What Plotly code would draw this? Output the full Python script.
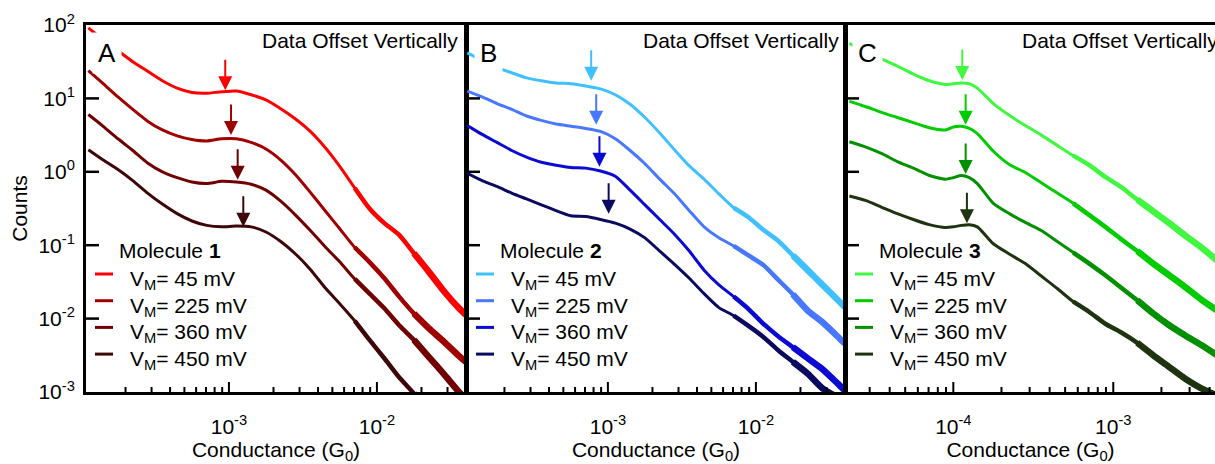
import math
import plotly.graph_objects as go

# conductance grid (log10 G/G0) for panels A and B
logG_AB = [-3.95, -3.85, -3.75, -3.65, -3.55, -3.45, -3.35, -3.25, -3.15, -3.05,
           -2.95, -2.85, -2.75, -2.65, -2.55, -2.45, -2.35, -2.25, -2.15, -2.05,
           -1.95, -1.85, -1.75, -1.65, -1.55, -1.45, -1.40]
# conductance grid (log10 G/G0) for panel C
logG_C = [-4.65, -4.55, -4.45, -4.35, -4.25, -4.15, -4.05, -4.00, -3.95, -3.90,
          -3.85, -3.75, -3.65, -3.55, -3.45, -3.35, -3.25, -3.15, -3.05, -2.95,
          -2.85, -2.75, -2.65, -2.55, -2.45, -2.35]

# log10 counts (offset vertically), molecule 1
A_45 = [1.96, 1.80, 1.65, 1.50, 1.37, 1.24, 1.14, 1.08, 1.07, 1.09, 1.10, 1.05, 0.98, 0.86,
        0.72, 0.55, 0.33, 0.07, -0.22, -0.50, -0.70, -0.86, -1.11, -1.36, -1.62, -1.85, -1.95]
A_225 = [1.38, 1.20, 1.02, 0.85, 0.69, 0.57, 0.49, 0.44, 0.42, 0.45, 0.45, 0.40, 0.31, 0.16,
         -0.04, -0.28, -0.53, -0.78, -1.03, -1.23, -1.45, -1.70, -1.93, -2.13, -2.31, -2.50, -2.59]
A_360 = [0.78, 0.62, 0.45, 0.29, 0.12, 0.00, -0.08, -0.14, -0.16, -0.13, -0.14, -0.17, -0.25, -0.40,
         -0.59, -0.80, -1.02, -1.23, -1.46, -1.66, -1.86, -2.09, -2.29, -2.52, -2.75, -2.99, -3.09]
A_450 = [0.30, 0.16, 0.03, -0.12, -0.29, -0.44, -0.57, -0.67, -0.73, -0.75, -0.74, -0.75, -0.82,
         -0.95, -1.12, -1.33, -1.58, -1.80, -2.03, -2.29, -2.54, -2.80, -3.02, -3.27]

# molecule 2
B_45 = [1.62, 1.52, 1.42, 1.35, 1.28, 1.24, 1.21, 1.20, 1.17, 1.13, 1.05, 0.92, 0.74, 0.53,
        0.30, 0.08, -0.10, -0.30, -0.49, -0.62, -0.79, -0.94, -1.14, -1.34, -1.54, -1.74, -1.84]
B_225 = [1.10, 1.02, 0.93, 0.85, 0.76, 0.70, 0.65, 0.62, 0.59, 0.55, 0.45, 0.29, 0.11, -0.10,
         -0.30, -0.53, -0.75, -0.90, -1.01, -1.14, -1.27, -1.47, -1.67, -1.89, -2.05, -2.24, -2.34]
B_360 = [0.63, 0.51, 0.40, 0.29, 0.20, 0.13, 0.09, 0.06, 0.05, 0.01, -0.06, -0.25, -0.45, -0.65,
         -0.85, -1.08, -1.34, -1.54, -1.70, -1.87, -2.07, -2.24, -2.39, -2.54, -2.69, -2.88, -2.98]
B_450 = [-0.02, -0.12, -0.20, -0.29, -0.37, -0.45, -0.53, -0.60, -0.61, -0.65, -0.70, -0.78, -0.90,
         -1.08, -1.26, -1.45, -1.66, -1.85, -1.96, -2.10, -2.25, -2.43, -2.59, -2.75, -2.95, -3.07]

# molecule 3
C_45 = [1.75, 1.64, 1.54, 1.44, 1.33, 1.24, 1.19, 1.20, 1.21, 1.20, 1.14, 0.93, 0.77, 0.63,
        0.50, 0.36, 0.22, 0.09, -0.07, -0.21, -0.38, -0.54, -0.70, -0.87, -1.03, -1.21]
C_225 = [0.96, 0.89, 0.81, 0.74, 0.67, 0.60, 0.57, 0.61, 0.62, 0.59, 0.52, 0.28, 0.10, -0.01,
         -0.15, -0.29, -0.43, -0.59, -0.75, -0.92, -1.08, -1.25, -1.41, -1.57, -1.74, -1.89]
C_360 = [0.41, 0.34, 0.25, 0.14, 0.05, -0.05, -0.10, -0.08, -0.05, -0.08, -0.16, -0.43, -0.57,
         -0.69, -0.80, -0.95, -1.10, -1.25, -1.41, -1.58, -1.75, -1.93, -2.09, -2.23, -2.36, -2.50]
C_450 = [-0.33, -0.39, -0.48, -0.57, -0.65, -0.72, -0.76, -0.75, -0.73, -0.72, -0.75, -0.98, -1.12,
         -1.25, -1.42, -1.59, -1.77, -1.91, -2.07, -2.19, -2.33, -2.50, -2.66, -2.82, -2.95, -3.05]

# peak positions marked with arrows (log10 G, log10 counts)
peakG_A = [-3.025, -2.986, -2.941, -2.903]
peakN_A = [1.11, 0.50, -0.11, -0.75]
peakG_B = [-3.113, -3.079, -3.057, -2.995]
peakN_B = [1.24, 0.64, 0.07, -0.57]
peakG_C = [-3.944, -3.923, -3.923, -3.915]
peakN_C = [1.25, 0.64, -0.03, -0.70]

bias_labels = ["45 mV", "225 mV", "360 mV", "450 mV"]
colors_A = ["#ff0000", "#a00000", "#700000", "#3e0606"]
colors_B = ["#40c0ff", "#4878ff", "#0a0ad2", "#0a0a60"]
colors_C = ["#40f840", "#00cc00", "#009000", "#1e3410"]

y_exps = [-3, -2, -1, 0, 1, 2]

W, H = 1215, 464
ML, MT, MB = 86, 25, 72
PW, PH = W - ML, H - MT - MB
FONT = "Liberation Sans, Arial, sans-serif"


def px(x):
    return (x - ML) / PW


def py(y):
    return (H - MB - y) / PH


def pow_label(e):
    return "10<sup>" + str(e) + "</sup>"


panels = [
    dict(key="", left=86, right=466, logG=logG_AB, series=[A_45, A_225, A_360, A_450],
         colors=colors_A, pG=peakG_A, pN=peakN_A, letter="A", mol="1",
         xr=[-3.966, -1.398], dec=[-4, -3, -2], tail=-2.15),
    dict(key="2", left=467, right=845, logG=logG_AB, series=[B_45, B_225, B_360, B_450],
         colors=colors_B, pG=peakG_B, pN=peakN_B, letter="B", mol="2",
         xr=[-3.952, -1.398], dec=[-4, -3, -2], tail=-2.15),
    dict(key="3", left=846, right=1215, logG=logG_C, series=[C_45, C_225, C_360, C_450],
         colors=colors_C, pG=peakG_C, pN=peakN_C, letter="C", mol="3",
         xr=[-4.671, -2.364], dec=[-5, -4, -3], tail=-3.25),
]

fig = go.Figure()
annotations = []
shapes = []
tick_line = dict(color="black", width=2)
yr = [y_exps[0], y_exps[-1]]

for i, p in enumerate(panels):
    xa, ya = "x" + p["key"], "y" + p["key"]
    for vals, col, lab in zip(p["series"], p["colors"], bias_labels):
        g = p["logG"][:len(vals)]
        gx = [10 ** v for v in g]
        ny = [10 ** v for v in vals]
        fig.add_trace(go.Scatter(
            x=gx, y=ny, mode="lines",
            line=dict(color=col, width=3, shape="spline", smoothing=0.6),
            name=lab, xaxis=xa, yaxis=ya, showlegend=False,
        ))
        # noisier high-conductance tail drawn as a broader band
        for start, wid in [(p["tail"], 4.5), (p["tail"] + 0.35, 6.5)]:
            idx = [k for k, v in enumerate(g) if v >= start - 1e-9]
            fig.add_trace(go.Scatter(
                x=[gx[k] for k in idx], y=[ny[k] for k in idx], mode="lines",
                line=dict(color=col, width=wid, shape="spline", smoothing=0.6),
                name=lab, xaxis=xa, yaxis=ya, showlegend=False, hoverinfo="skip",
            ))

    # arrows at peak positions
    for gx, ny, col in zip(p["pG"], p["pN"], p["colors"]):
        annotations.append(dict(
            x=gx, y=ny, xref=xa, yref=ya, text="", showarrow=True,
            ax=0, ay=-32, arrowhead=2, arrowsize=1.4, arrowwidth=2, arrowcolor=col,
        ))

    dl = p["left"]
    annotations.append(dict(
        x=px(dl + 21), y=py(53), xref="paper", yref="paper", text=p["letter"],
        showarrow=False, font=dict(size=26, color="black"), bgcolor="white", borderpad=5,
        xanchor="center", yanchor="middle",
    ))
    annotations.append(dict(
        x=px(dl + 374), y=py(40), xref="paper", yref="paper", text="Data Offset Vertically",
        showarrow=False, font=dict(size=21, color="black"), xanchor="right", yanchor="middle",
    ))
    annotations.append(dict(
        x=px(dl + 31), y=py(250), xref="paper", yref="paper",
        text="Molecule <b>" + p["mol"] + "</b>",
        showarrow=False, font=dict(size=21, color="black"), xanchor="left", yanchor="middle",
    ))
    for k, (col, lab) in enumerate(zip(p["colors"], bias_labels)):
        yk = 277 + 26.7 * k
        annotations.append(dict(
            x=px(dl + 42), y=py(yk + 3), xref="paper", yref="paper",
            text="V<sub>M</sub>= " + lab,
            showarrow=False, font=dict(size=21, color="black"), xanchor="left", yanchor="middle",
        ))
        shapes.append(dict(
            type="line", xref="paper", yref="paper",
            x0=px(dl + 9), x1=px(dl + 27), y0=py(yk - 3), y1=py(yk - 3),
            line=dict(color=col, width=3),
        ))

    # inward tick marks (major decades, minor 2..9), placed in axis-domain fractions
    lo, hi = p["xr"]
    for d in p["dec"]:
        for m in range(1, 10):
            lv = d + math.log10(m)
            if lo < lv < hi:
                tl = 10 if m == 1 else 5
                fx = (lv - lo) / (hi - lo)
                shapes.append(dict(type="line", xref=xa + " domain", yref=ya + " domain",
                                   x0=fx, x1=fx, y0=0, y1=tl / PH, line=tick_line))
    # y ticks on the left edge of each panel (y domain spans the whole plot height)
    for e in y_exps[1:-1]:
        fy = (e - yr[0]) / (yr[1] - yr[0])
        shapes.append(dict(type="line", xref="paper", yref="paper", layer="above",
                           x0=px(dl), x1=px(dl + 13), y0=fy, y1=fy,
                           line=dict(color="black", width=2.5)))

    xaxis = dict(
        type="log", range=p["xr"], domain=[px(p["left"]), px(p["right"])], anchor=ya,
        showline=True, linecolor="black", linewidth=3, mirror=True, ticks="",
        tickmode="array", tickvals=[10.0 ** d for d in p["dec"]],
        ticktext=[pow_label(d) for d in p["dec"]],
        showgrid=False, zeroline=False,
        tickfont=dict(size=21, color="black"), ticklabelstandoff=14,
        title=dict(text="Conductance (G<sub>0</sub>)", font=dict(size=21, color="black"), standoff=16),
        automargin=False,
    )
    yaxis = dict(
        type="log", range=yr, domain=[0, 1], anchor=xa,
        showline=True, linecolor="black", linewidth=3, mirror=(i < 2), ticks="",
        tickmode="array", tickvals=[10.0 ** e for e in y_exps],
        ticktext=[pow_label(e) for e in y_exps],
        showgrid=False, zeroline=False,
        showticklabels=(i == 0), tickfont=dict(size=21, color="black"), ticklabelstandoff=4,
        automargin=False,
    )
    if i == 0:
        yaxis["title"] = dict(text="Counts", font=dict(size=21, color="black"), standoff=6)
    fig.update_layout({"xaxis" + p["key"]: xaxis, "yaxis" + p["key"]: yaxis})

fig.update_layout(
    width=W, height=H,
    margin=dict(l=ML, r=0, t=MT, b=MB, pad=0),
    paper_bgcolor="white", plot_bgcolor="white",
    font=dict(family=FONT, color="black"),
    annotations=annotations, shapes=shapes, showlegend=False,
)

fig.write_html("out.html", config={"displayModeBar": False},
               post_script="document.body.style.margin='0';")
